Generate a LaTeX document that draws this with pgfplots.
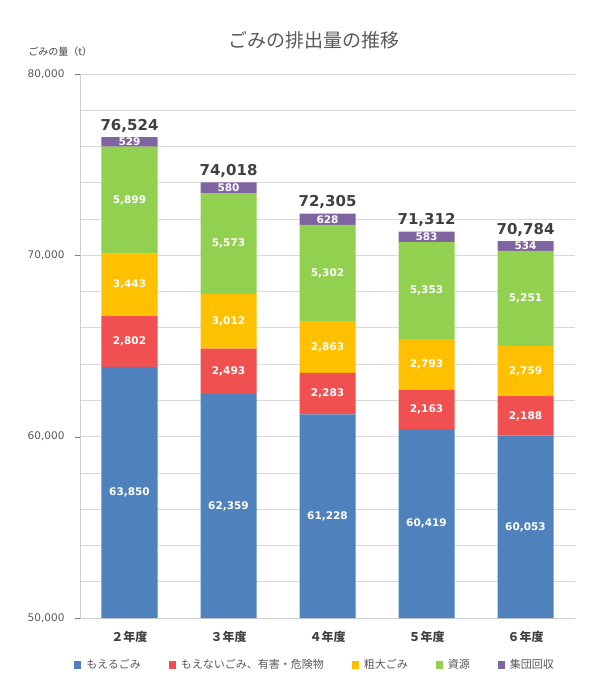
\documentclass[border=0pt]{standalone}
\usepackage{fontspec}
\setmainfont{DejaVu Sans}
\newfontfamily\jp{Noto Sans CJK JP}
\usepackage{pgfplots}
\pgfplotsset{compat=1.18}

\definecolor{cMoeru}{HTML}{4F81BD}
\definecolor{cFunen}{HTML}{F0504F}
\definecolor{cSodai}{HTML}{FFC000}
\definecolor{cShigen}{HTML}{92D050}
\definecolor{cShudan}{HTML}{8064A2}
\definecolor{txt}{HTML}{595959}
\definecolor{dark}{HTML}{404040}
\definecolor{gridc}{HTML}{D9D9D9}

\pgfplotsset{
  /pgf/number format/.cd, 1000 sep={,}, assume math mode=true,
  /pgfplots/.cd,
  frame/.style={
    at={(0,0)}, anchor=south west,
    scale only axis, width=495pt, height=544pt,
    xmin=-0.5, xmax=4.5, ymin=50000, ymax=80000,
  },
  % stacked segment, its own value printed in its middle
  seg/.style={
    fill=#1, draw=none,
    nodes near coords={\pgfmathprintnumber{\pgfplotspointmeta}},
    every node near coord/.append style={
      font=\bfseries\fontsize{10.5}{12}\selectfont, text=white, anchor=center},
  },
}

\begin{document}
\begin{tikzpicture}
\path[use as bounding box] (-80pt,-82pt) rectangle (517pt,618pt);
\begin{axis}[
  frame,
  ybar stacked, bar width=56pt,
  xtick={0,...,4},
  xticklabels={２年度,３年度,４年度,５年度,６年度},
  xticklabel style={font=\jp\bfseries\fontsize{12}{14}\selectfont, text=dark, yshift=-5pt},
  major x tick style={draw=none},
  ytick={50000,60000,70000,80000},
  minor ytick={52000,54000,...,78000},
  scaled y ticks=false,
  yticklabel style={font=\fontsize{10.5}{12}\selectfont, text=txt, xshift=-7pt},
  ymajorgrids, yminorgrids,
  grid style={gridc, line width=0.8pt},
  minor grid style={gridc, line width=0.8pt},
  axis x line*=bottom, axis y line*=left,
  axis line style={draw=gridc!80!black!60, line width=0.8pt},
  tick align=outside, major tick length=5pt, minor tick length=0pt,
  title={\jp ごみの排出量の推移},
  title style={font=\jp\fontsize{19}{22}\selectfont, text=txt,
    at={(axis description cs:0.473,1.051)}, anchor=center},
  ylabel={\jp ごみの量（t）},
  every axis y label/.style={at={(axis description cs:-0.04,1.041)}, anchor=center,
    font=\jp\fontsize{10}{12}\selectfont, text=dark},
  legend columns=5,
  legend style={at={(axis description cs:0.475,-0.0864)}, anchor=center, draw=none,
    font=\jp\fontsize{11}{13}\selectfont, text=txt,
    /tikz/every odd column/.append style={column sep=3pt},
    /tikz/every even column/.append style={column sep=26pt}},
  legend image code/.code={\fill[#1] (0pt,-3.5pt) rectangle (7pt,3.5pt);},
]

% もえるごみ (label moved to the middle of the part above 50,000)
\addplot[seg=cMoeru,
  every node near coord/.append style={shift={(axis direction cs:0,25000)}}]
  coordinates {(0,63850) (1,62359) (2,61228) (3,60419) (4,60053)};
\addlegendentry{もえるごみ}

% もえないごみ、有害・危険物
\addplot[seg=cFunen]
  coordinates {(0,2802) (1,2493) (2,2283) (3,2163) (4,2188)};
\addlegendentry{もえないごみ、有害・危険物}

% 粗大ごみ
\addplot[seg=cSodai]
  coordinates {(0,3443) (1,3012) (2,2863) (3,2793) (4,2759)};
\addlegendentry{粗大ごみ}

% 資源
\addplot[seg=cShigen]
  coordinates {(0,5899) (1,5573) (2,5302) (3,5353) (4,5251)};
\addlegendentry{資源}

% 集団回収
\addplot[seg=cShudan]
  coordinates {(0,529) (1,580) (2,628) (3,583) (4,534)};
\addlegendentry{集団回収}

\end{axis}

% totals above each bar, same frame, no stacking
\begin{axis}[frame, hide axis]
\addplot[draw=none, mark=none, point meta=y,
  nodes near coords={\pgfmathprintnumber{\pgfplotspointmeta}},
  every node near coord/.append style={font=\bfseries\fontsize{15}{18}\selectfont,
    text=dark, anchor=south, yshift=1pt}]
  coordinates {(0,76524) (1,74018) (2,72305) (3,71312) (4,70784)};
\end{axis}
\end{tikzpicture}
\end{document}
